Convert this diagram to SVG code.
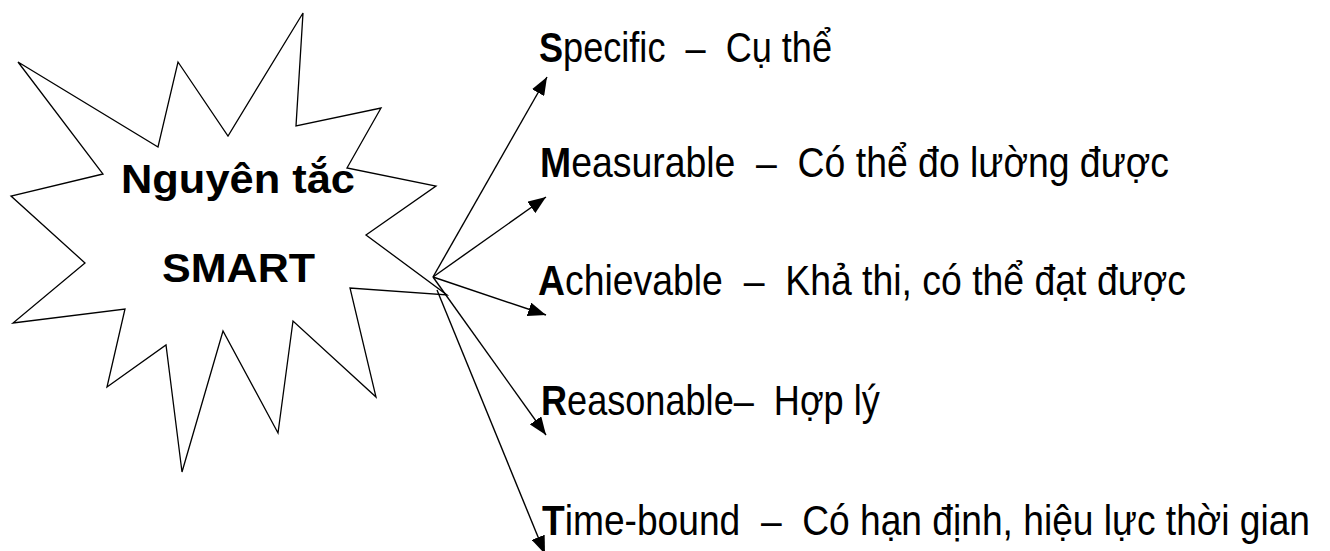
<svg xmlns="http://www.w3.org/2000/svg" width="1330" height="551" viewBox="0 0 1330 551">
  <style>
    .star { fill: #ffffff; stroke: #000000; stroke-width: 1.3; stroke-linejoin: miter; }
    .title { font-family: "Liberation Sans", Arial, sans-serif; font-weight: bold; font-size: 40px; fill: #000000; }
    .item { font-family: "Liberation Sans", Arial, sans-serif; font-size: 42px; fill: #000000; white-space: pre; }
    .lead { font-weight: bold; }
    .conn { stroke: #000000; stroke-width: 1.4; fill: none; marker-end: url(#arrow); }
  </style>
  <defs>
    <marker id="arrow" viewBox="0 0 18 14" refX="18" refY="7" markerWidth="18" markerHeight="14" markerUnits="userSpaceOnUse" orient="auto">
      <path d="M0,0 L18,7 L0,14 Z" fill="#000000"/>
    </marker>
  </defs>
  <g id="star-node">
    <polygon class="star" points="18,62 158,147 178,62 228,136 303,13 296,126 381,108 347,168 436,186 366,235 447,295 350,288 376,397 293,321 278,433 223,331 182,472 166,345 107,387 125,309 13,323 85,263 11,196 103,174"/>
    <text class="title" x="121" y="193" textLength="234" lengthAdjust="spacingAndGlyphs">Nguyên tắc</text>
    <text class="title" x="162" y="282" textLength="153" lengthAdjust="spacingAndGlyphs">SMART</text>
  </g>
  <g id="connectors">
    <line class="conn" x1="433" y1="277" x2="547" y2="77"/>
    <line class="conn" x1="433" y1="277" x2="546" y2="197"/>
    <line class="conn" x1="433" y1="277" x2="546" y2="315"/>
    <line class="conn" x1="433" y1="277" x2="546" y2="435"/>
    <line class="conn" x1="437" y1="290" x2="545" y2="554"/>
  </g>
  <g id="node-s">
    <text class="item" transform="translate(539,62) scale(0.86,1)" xml:space="preserve"><tspan class="lead">S</tspan>pecific  –  Cụ thể</text>
  </g>
  <g id="node-m">
    <text class="item" transform="translate(540,177) scale(0.89,1)" xml:space="preserve"><tspan class="lead">M</tspan>easurable  –  Có thể đo lường được</text>
  </g>
  <g id="node-a">
    <text class="item" transform="translate(538,295) scale(0.89,1)" xml:space="preserve"><tspan class="lead">A</tspan>chievable  –  Khả thi, có thể đạt được</text>
  </g>
  <g id="node-r">
    <text class="item" transform="translate(541,415) scale(0.86,1)" xml:space="preserve"><tspan class="lead">R</tspan>easonable–  Hợp lý</text>
  </g>
  <g id="node-t">
    <text class="item" transform="translate(542,535) scale(0.885,1)" xml:space="preserve"><tspan class="lead">T</tspan>ime-bound  –  Có hạn định, hiệu lực thời gian</text>
  </g>
</svg>
